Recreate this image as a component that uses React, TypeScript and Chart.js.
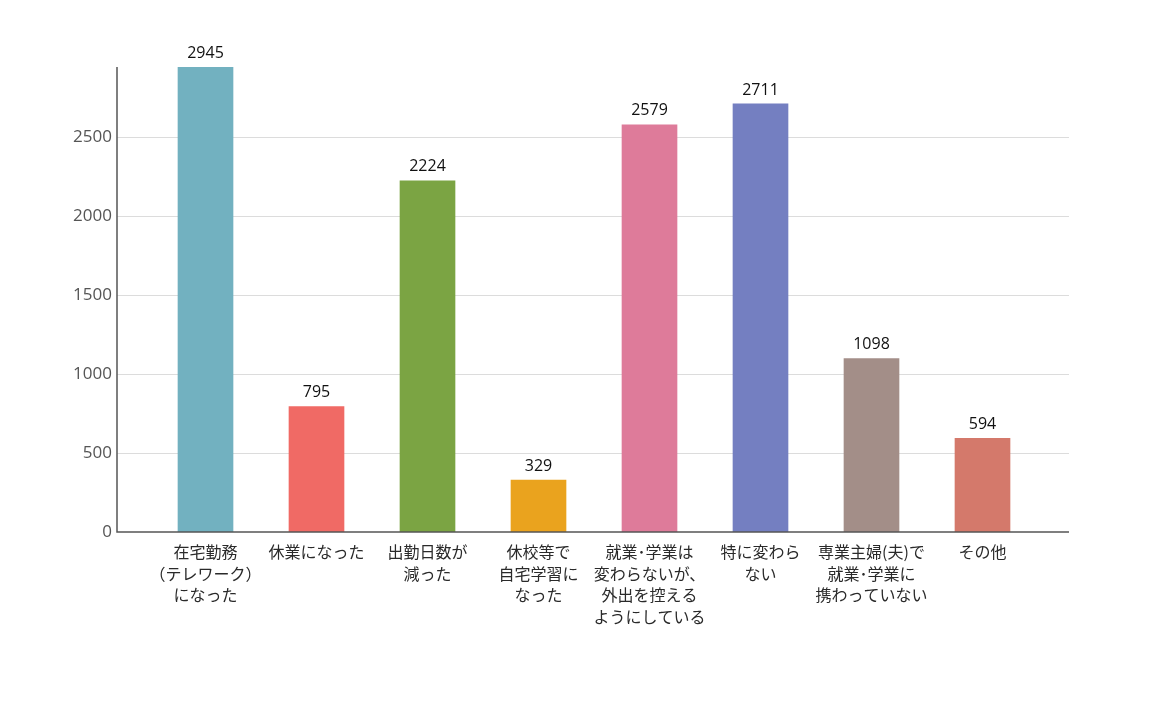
import React, { useEffect, useRef } from "react";
import { Chart, registerables } from "chart.js";

Chart.register(...registerables);

const categories: string[][] = [
  ["在宅勤務", "（テレワーク）", "になった"],
  ["休業になった"],
  ["出勤日数が", "減った"],
  ["休校等で", "自宅学習に", "なった"],
  ["就業･学業は", "変わらないが、", "外出を控える", "ようにしている"],
  ["特に変わら", "ない"],
  ["専業主婦(夫)で", "就業･学業に", "携わっていない"],
  ["その他"],
];
const counts: number[] = [2945, 795, 2224, 329, 2579, 2711, 1098, 594];
const barColors: string[] = [
  "#72B1C0",
  "#F06A65",
  "#7BA443",
  "#EAA31E",
  "#DE7B9A",
  "#747FC1",
  "#A38E88",
  "#D4796B",
];
const yTickValues: number[] = [0, 500, 1000, 1500, 2000, 2500];

const AXIS_LEFT = 117;
const AXIS_RIGHT = 1069;

const framePlugin = {
  id: "frame",
  beforeDatasetsDraw(chart: any) {
    const ctx = chart.ctx;
    const y = chart.scales.y;
    ctx.save();
    ctx.strokeStyle = "#dcdcdc";
    ctx.lineWidth = 1;
    for (const v of yTickValues) {
      if (v === 0) continue;
      const py = Math.round(y.getPixelForValue(v)) + 0.5;
      ctx.beginPath();
      ctx.moveTo(AXIS_LEFT, py);
      ctx.lineTo(AXIS_RIGHT, py);
      ctx.stroke();
    }
    ctx.restore();
  },
  afterDatasetsDraw(chart: any) {
    const ctx = chart.ctx;
    const y = chart.scales.y;
    const area = chart.chartArea;
    ctx.save();
    ctx.strokeStyle = "#555555";
    ctx.lineWidth = 1.5;
    const y0 = y.getPixelForValue(0);
    ctx.beginPath();
    ctx.moveTo(AXIS_LEFT, area.top);
    ctx.lineTo(AXIS_LEFT, y0);
    ctx.lineTo(AXIS_RIGHT, y0);
    ctx.stroke();

    const meta = chart.getDatasetMeta(0);
    ctx.fillStyle = "#111111";
    ctx.font = "16px 'Open Sans', 'Noto Sans', sans-serif";
    ctx.textAlign = "center";
    ctx.textBaseline = "bottom";
    meta.data.forEach((bar: any, i: number) => {
      ctx.fillText(String(counts[i]), bar.x, bar.y - 6);
    });
    ctx.restore();
  },
};

export default function App() {
  const canvasRef = useRef<HTMLCanvasElement | null>(null);

  useEffect(() => {
    if (!canvasRef.current) return;
    const chart = new Chart(canvasRef.current, {
      type: "bar",
      data: {
        labels: categories,
        datasets: [
          {
            data: counts,
            backgroundColor: barColors,
            barThickness: 55,
          },
        ],
      },
      options: {
        animation: false,
        responsive: false,
        layout: { padding: { left: 0, top: 67, right: 124, bottom: 0 } },
        plugins: {
          legend: { display: false },
          tooltip: { enabled: false },
        },
        scales: {
          x: {
            grid: { display: false, drawTicks: false },
            border: { display: false },
            afterFit(scale: any) {
              scale.height = 709 - 532;
            },
            ticks: {
              padding: 9,
              maxRotation: 0,
              autoSkip: false,
              color: "#2a2a2a",
              font: {
                family: "'Noto Sans CJK JP', sans-serif",
                size: 16,
                lineHeight: 1.36,
              },
            },
          },
          y: {
            min: 0,
            max: 2945,
            grid: { display: false, drawTicks: false },
            border: { display: false },
            afterFit(scale: any) {
              scale.width = 150;
            },
            afterBuildTicks(scale: any) {
              scale.ticks = yTickValues.map((v) => ({ value: v }));
            },
            ticks: {
              padding: 38,
              color: "#555555",
              callback: (value: any) => String(value),
              font: {
                family: "'Open Sans', 'Noto Sans', sans-serif",
                size: 17,
              },
            },
          },
        },
      },
      plugins: [framePlugin],
    });
    return () => chart.destroy();
  }, []);

  return (
    <div style={{ position: "fixed", left: 0, top: 0, width: 1162, height: 709, background: "#fff" }}>
      <canvas ref={canvasRef} width={1162} height={709} style={{ display: "block" }} />
    </div>
  );
}
